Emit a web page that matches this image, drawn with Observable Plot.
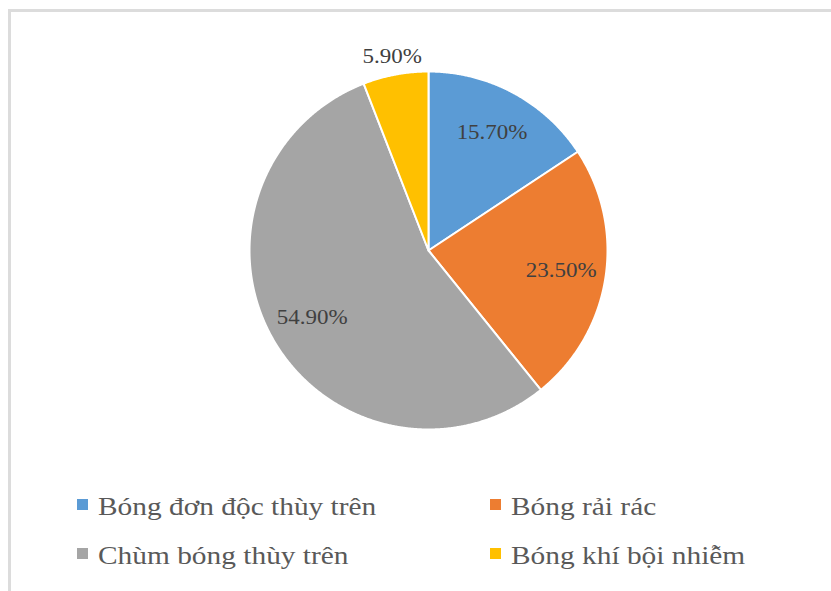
<!DOCTYPE html>
<html><head><meta charset="utf-8">
<script src="https://cdn.jsdelivr.net/npm/d3@7"></script>
<script src="https://cdn.jsdelivr.net/npm/@observablehq/plot@0.6"></script>
<style>
html,body{margin:0;padding:0;background:#fff;overflow:hidden;width:831px;height:591px;}
#frame{position:absolute;left:8px;top:9px;width:900px;height:700px;border-left:3px solid #dcdcdc;border-top:3px solid #dcdcdc;}
#chart{position:absolute;left:0;top:0;}
#legend{position:absolute;left:77px;top:482px;display:grid;grid-template-columns:413px 320px;font-family:"Liberation Serif","Times New Roman",serif;font-size:26px;line-height:49px;color:#595959;}
.item{display:flex;align-items:center;white-space:nowrap;}
.sw{width:11px;height:11px;margin-right:10px;position:relative;top:-2px;flex:none;}
.lbl{display:inline-block;transform:scaleX(1.13);transform-origin:0 50%;}
</style></head><body>
<div id="frame"></div>
<div id="chart"></div>
<div id="legend"></div>
<script>
const categories = ["Bóng đơn độc thùy trên", "Bóng rải rác", "Chùm bóng thùy trên", "Bóng khí bội nhiễm"];
const values = [15.7, 23.5, 54.9, 5.9];
const labels = ["15.70%", "23.50%", "54.90%", "5.90%"];
const colors = ["#5B9BD5", "#ED7D31", "#A5A5A5", "#FFC000"];

const arcs = d3.pie().sort(null).value(d => d)(values);

// slice outlines (center -> arc -> center), unit radius
const slicePts = [];
arcs.forEach((a, i) => {
  const n = Math.max(2, Math.ceil((a.endAngle - a.startAngle) / 0.005));
  slicePts.push({cat: categories[i], x: 0, y: 0});
  for (let k = 0; k <= n; k++) {
    const t = a.startAngle + (a.endAngle - a.startAngle) * k / n;
    slicePts.push({cat: categories[i], x: Math.sin(t), y: Math.cos(t)});
  }
  slicePts.push({cat: categories[i], x: 0, y: 0});
});

// label positions: inside at 0.75r, the small slice outside
const labelData = arcs.map((a, i) => {
  const m = (a.startAngle + a.endAngle) / 2;
  const r = values[i] < 10 ? 1.1 : 0.75;
  return {text: labels[i], x: r * Math.sin(m), y: r * Math.cos(m)};
});

const plot = Plot.plot({
  width: 831,
  height: 470,
  x: {domain: [-1, 1], range: [249, 607], axis: null},
  y: {domain: [-1, 1], range: [429, 71], axis: null},
  color: {domain: categories, range: colors},
  style: {background: "transparent"},
  marks: [
    Plot.line(slicePts, {x: "x", y: "y", z: "cat", fill: "cat", stroke: "white", strokeWidth: 2, curve: "linear", strokeLinejoin: "round"}),
    Plot.text(labelData, {x: "x", y: "y", text: "text", fontSize: 20, fontFamily: "Liberation Serif, Times New Roman, serif", fill: "#404040"})
  ]
});
document.getElementById("chart").appendChild(plot);

plot.querySelectorAll('g[aria-label="text"] text').forEach(t => {
  const L = t.getComputedTextLength();
  t.setAttribute("textLength", (L * 1.15).toFixed(1));
  t.setAttribute("lengthAdjust", "spacingAndGlyphs");
});

const legend = document.getElementById("legend");
const order = [0, 1, 2, 3];
order.forEach(i => {
  const it = document.createElement("div");
  it.className = "item";
  const sw = document.createElement("span");
  sw.className = "sw";
  sw.style.background = colors[i];
  const lb = document.createElement("span");
  lb.className = "lbl";
  lb.textContent = categories[i];
  it.appendChild(sw);
  it.appendChild(lb);
  legend.appendChild(it);
});
</script>
</body></html>
